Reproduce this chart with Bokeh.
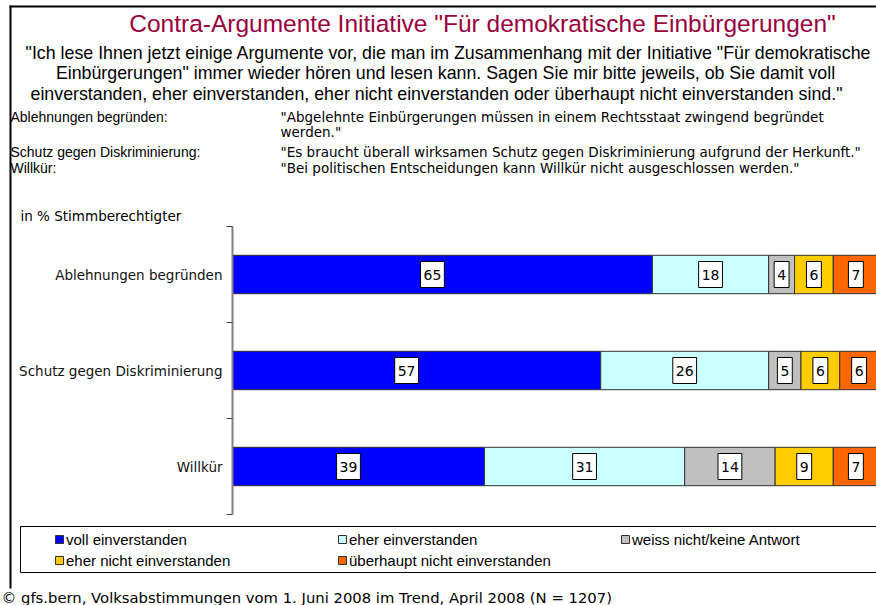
from bokeh.plotting import figure
from bokeh.models import (Range1d, FixedTicker, Label, Legend, LegendItem,
                          BoxAnnotation, ColumnDataSource)
from bokeh.core.properties import value
from bokeh.embed import file_html
from bokeh.resources import INLINE

# ---------------- data ----------------
categories = ["Ablehnungen begründen", "Schutz gegen Diskriminierung", "Willkür"]
series_names = ["voll einverstanden", "eher einverstanden", "weiss nicht/keine Antwort",
                "eher nicht einverstanden", "überhaupt nicht einverstanden"]
voll = [65, 57, 39]
eher = [18, 26, 31]
weiss = [4, 5, 14]
eher_nicht = [6, 6, 9]
ueberhaupt = [7, 6, 7]
colors = ["#0000FF", "#CCFFFF", "#C0C0C0", "#FFCC00", "#FF6600"]

title_text = 'Contra-Argumente Initiative "Für demokratische Einbürgerungen"'
question_lines = [
    '"Ich lese Ihnen jetzt einige Argumente vor, die man im Zusammenhang mit der Initiative "Für demokratische',
    'Einbürgerungen" immer wieder hören und lesen kann. Sagen Sie mir bitte jeweils, ob Sie damit voll',
    'einverstanden, eher einverstanden, eher nicht einverstanden oder überhaupt nicht einverstanden sind."',
]
explain_left = ["Ablehnungen begründen:", "", "Schutz gegen Diskriminierung:", "Willkür:"]
explain_right = ['"Abgelehnte Einbürgerungen müssen in einem Rechtsstaat zwingend begründet',
                 'werden."',
                 '"Es braucht überall wirksamen Schutz gegen Diskriminierung aufgrund der Herkunft."',
                 '"Bei politischen Entscheidungen kann Willkür nicht ausgeschlossen werden."']
unit_text = "in % Stimmberechtigter"
source_text = "© gfs.bern, Volksabstimmungen vom 1. Juni 2008 im Trend, April 2008 (N = 1207)"

# ---------------- layout ----------------
W, H = 876, 605
X0, PX = 232, 6.46        # pixel of value 0, pixels per percent
Y0, BAND = 226, 96        # pixel of top of first category band, band height


def sy(y):                # page px (top-down) -> frame screen units (bottom-up)
    return H - y


p = figure(width=W, height=H, output_backend="svg", toolbar_location=None,
           x_range=Range1d(-X0 / PX, (W - X0) / PX),
           y_range=Range1d((H - Y0) / BAND, -Y0 / BAND),
           x_axis_location=None, title=None,
           min_border=0, min_border_left=0, min_border_right=0,
           min_border_top=0, min_border_bottom=0)
p.outline_line_color = None
p.grid.visible = False
p.background_fill_color = "white"
p.border_fill_color = "white"

centers = [i + 0.5 for i in range(len(categories))]
bounds = [i for i in range(len(categories) + 1)]
ax = p.yaxis[0]
ax.fixed_location = 0
ax.bounds = (0, len(categories))
ax.ticker = FixedTicker(ticks=centers, minor_ticks=bounds)
ax.major_label_overrides = {c: n for c, n in zip(centers, categories)}
ax.major_tick_out = 0
ax.major_tick_in = 0
ax.minor_tick_out = 6
ax.minor_tick_in = 0
ax.minor_tick_line_color = "#404040"
ax.axis_line_color = "#808080"
ax.axis_line_width = 2
ax.major_label_text_font = "DejaVu Sans"
ax.major_label_text_font_size = "13.5px"
ax.major_label_text_color = "#111111"
ax.major_label_standoff = 4

series = [voll, eher, weiss, eher_nicht, ueberhaupt]
items = []
left = [0] * len(categories)
for k, (name, vals, col) in enumerate(zip(series_names, series, colors)):
    right = [l + v for l, v in zip(left, vals)]
    src = ColumnDataSource(dict(y=centers, left=left, right=right,
                                mid=[(l + r) / 2 for l, r in zip(left, right)],
                                lbl=[str(v) for v in vals]))
    r = p.hbar(y="y", left="left", right="right", height=0.4, fill_color=col,
               line_color="#303030", line_width=1, source=src)
    p.text(x="mid", y="y", text="lbl", source=src, text_align="center",
           text_baseline="middle", text_font=value("DejaVu Sans"),
           text_font_size="14px", text_color="black",
           background_fill_color="white", border_line_color="black",
           border_line_width=1, padding=dict(left=3, right=3, top=8, bottom=8),
           x_offset=-10 if k == 0 else 0)
    items.append(LegendItem(label=name, renderers=[r]))
    left = right

# legend
legend = Legend(items=items, orientation="horizontal", ncols=3,
                location=(54, sy(570)),
                glyph_width=10, glyph_height=10, label_width=270, label_height=20,
                label_standoff=2, spacing=1, padding=0, margin=0,
                border_line_alpha=0, background_fill_alpha=0,
                label_text_font="Liberation Sans", label_text_font_size="15px",
                label_text_color="black")
p.add_layout(legend)
p.add_layout(BoxAnnotation(left=20, right=2000, top=sy(526), bottom=sy(572),
                           left_units="screen", right_units="screen",
                           top_units="screen", bottom_units="screen",
                           fill_alpha=0, line_color="black", line_alpha=1, line_width=1))

# outer slide border (left and top edges)
for l_, r_, t_, b_ in [(9, 11, 5, 588), (9, 3000, 5, 7)]:
    p.add_layout(BoxAnnotation(left=l_, right=r_, top=sy(t_), bottom=sy(b_),
                               left_units="screen", right_units="screen",
                               top_units="screen", bottom_units="screen",
                               fill_color="black", fill_alpha=1, line_alpha=0))


def add_text(x, y, text, size, font="Liberation Sans", align="left", color="black"):
    p.add_layout(Label(x=x, y=sy(y), x_units="screen", y_units="screen",
                       text=text, text_align=align, text_baseline="middle",
                       text_font=font, text_font_size=size, text_color=color))


add_text(482, 23, title_text, "24.5px", align="center", color="#99003D")
line_centers = [448, 445, 436]
for i, line in enumerate(question_lines):
    add_text(line_centers[i], 52 + 20.5 * i, line, "17.8px", align="center")
row_y = [116, 131, 151, 167]
for ty, lt, rt in zip(row_y, explain_left, explain_right):
    if lt:
        add_text(10, ty, lt, "14px")
    add_text(280, ty, rt, "13.5px", font="DejaVu Sans")
add_text(20, 215, unit_text, "13.5px", font="DejaVu Sans")
add_text(1, 597, source_text, "14.8px", font="DejaVu Sans")

open("out.html", "w").write(file_html(p, INLINE))
